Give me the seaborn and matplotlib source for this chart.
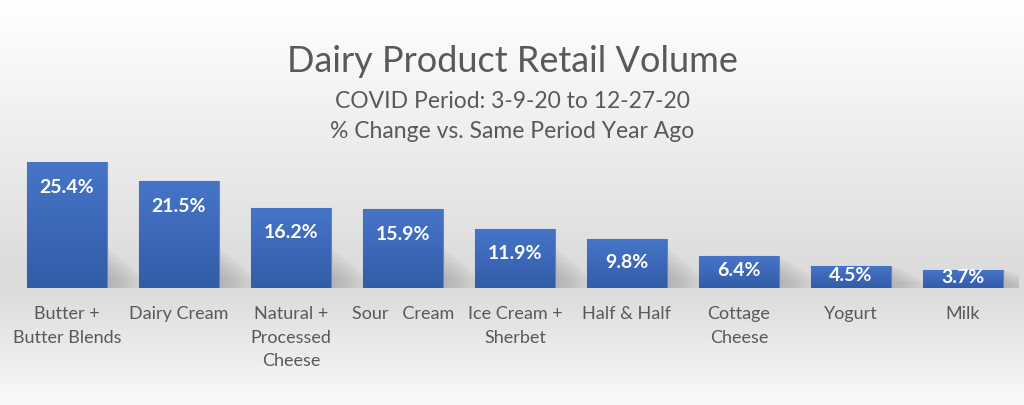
import numpy as np
import matplotlib.pyplot as plt
import matplotlib.transforms as mtransforms
import seaborn as sns

categories = ["Butter +\nButter Blends", "Dairy Cream", "Natural +\nProcessed\nCheese",
              "Sour   Cream", "Ice Cream +\nSherbet", "Half & Half",
              "Cottage\nCheese", "Yogurt", "Milk"]
pct_change = [25.4, 21.5, 16.2, 15.9, 11.9, 9.8, 6.4, 4.5, 3.7]
value_labels = ["25.4%", "21.5%", "16.2%", "15.9%", "11.9%", "9.8%", "6.4%", "4.5%", "3.7%"]

title = "Dairy Product Retail Volume"
subtitle1 = "COVID Period: 3-9-20 to 12-27-20"
subtitle2 = "% Change vs. Same Period Year Ago"

sns.set_theme(style="white")
plt.rcParams["font.family"] = ["Lato", "DejaVu Sans"]

fig = plt.figure(figsize=(10.24, 4.05), dpi=100)

# background gradient over the whole figure
bg = fig.add_axes([0, 0, 1, 1], zorder=0)
stops_y = [0.0, 0.3, 0.68, 0.74, 1.0]
stops_v = [1.0, 0.94, 0.86, 0.87, 0.98]
rows = np.interp(np.linspace(0, 1, 405), stops_y, stops_v)
bg.imshow(np.dstack([rows[:, None]] * 3), aspect="auto", extent=[0, 1, 0, 1],
          interpolation="bicubic")
bg.set_axis_off()

px_per_unit = 4.96
ax = fig.add_axes([11 / 1024, 117 / 405, 1008 / 1024, 138 / 405], zorder=1)
ax.patch.set_alpha(0)
sns.barplot(x=list(range(len(pct_change))), y=pct_change, color="#4472c4",
            width=0.714, ax=ax, saturation=1, linewidth=0)
ax.set_xlim(-0.5, len(pct_change) - 0.5)
ax.set_ylim(0, 138 / px_per_unit)

# soft shadow behind each bar and a blue gradient fill
grad = np.linspace(0, 1, 100)[:, None]
top_c = np.array([0x46, 0x75, 0xc8]) / 255
bot_c = np.array([0x33, 0x5c, 0xa8]) / 255
img = top_c * (1 - grad[..., None]) + bot_c * grad[..., None]
for p in ax.patches:
    x0, w, h = p.get_x(), p.get_width(), p.get_height()
    for k in range(10):
        off = 0.035 * (k + 1)
        sh = plt.Rectangle((x0 + off, 0), w, min(h, 8.0) * (1 - k / 12),
                           color="#6e6e6e", alpha=0.04, lw=0, zorder=1)
        ax.add_patch(sh)
    p.set_zorder(2)
    im = ax.imshow(img, extent=[x0, x0 + w, 0, h], aspect="auto", zorder=3)
    im.set_clip_path(p)
    p.set_edgecolor("#5b86d0")
    p.set_linewidth(0.8)

# labels sit near the top of the bar, or in the middle of short bars
for i, v in enumerate(pct_change):
    h_px = v * px_per_unit
    drop = min(25, h_px / 2 - 1.5)
    off = mtransforms.offset_copy(ax.transData, fig=fig, x=0, y=-drop * 0.72, units="points")
    ax.text(i, v, value_labels[i], transform=off, ha="center", va="center",
            color="white", fontsize=14, fontweight="bold", zorder=5)

ax.set_xticks(range(len(categories)))
ax.set_xticklabels(categories, color="#595959", fontsize=13, linespacing=1.58)
ax.tick_params(axis="x", length=0, pad=13)
ax.set_yticks([])
sns.despine(ax=ax, left=True, bottom=True)

fig.text(0.5, 1 - 62 / 405, title, ha="center", va="center", fontsize=26, color="#595959")
fig.text(0.5, 1 - 101 / 405, subtitle1, ha="center", va="center", fontsize=16.5, color="#595959")
fig.text(0.5, 1 - 132 / 405, subtitle2, ha="center", va="center", fontsize=16.5, color="#595959")

fig.savefig("out.png", dpi=100)
